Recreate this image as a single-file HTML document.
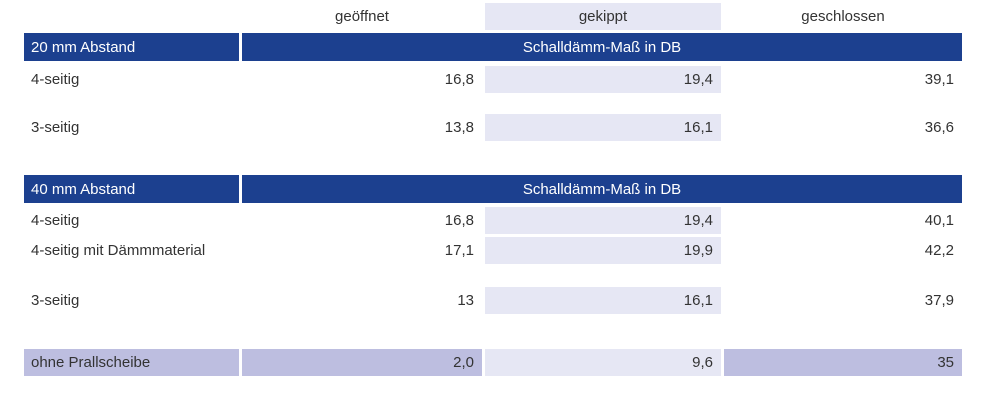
<!DOCTYPE html>
<html><head><meta charset="utf-8"><style>
body{margin:0;width:990px;height:401px;background:#fff;position:relative;overflow:hidden;font-family:"Liberation Sans Narrow","Liberation Sans",sans-serif;font-stretch:condensed;color:#333;font-size:15px}
.c{position:absolute;box-sizing:border-box;display:flex;align-items:center;white-space:nowrap}
.r{justify-content:flex-end;padding-right:8px}
.l{padding-left:7px}
.m{justify-content:center}
.h{background:#1c408f;color:#fff}
.lg{background:#e6e7f4}
.dk{background:#bdbee0}
</style></head><body>
<div class="c m" style="left:242px;top:3px;width:240px;height:27px">geöffnet</div>
<div class="c m lg" style="left:485px;top:3px;width:236px;height:27px">gekippt</div>
<div class="c m" style="left:724px;top:3px;width:238px;height:27px">geschlossen</div>
<div id="t"></div>
<script>
const sections=[
 {top:33,title:"20 mm Abstand",sub:"Schalldämm-Maß in DB"},
 {top:175,title:"40 mm Abstand",sub:"Schalldämm-Maß in DB"}];
const rowLabels=["4-seitig","3-seitig","4-seitig","4-seitig mit Dämmmaterial","3-seitig","ohne Prallscheibe"];
const rowTops=[66,114,207,237,287,349];
const geoeffnet=["16,8","13,8","16,8","17,1","13","2,0"];
const gekippt=["19,4","16,1","19,4","19,9","16,1","9,6"];
const geschlossen=["39,1","36,6","40,1","42,2","37,9","35"];
const t=document.getElementById('t');
function cell(cls,x,y,w,h,txt,name){const d=document.createElement('div');d.className='c '+cls;d.style.cssText=`left:${x}px;top:${y}px;width:${w}px;height:${h}px`;d.textContent=txt;


t.appendChild(d);}
sections.forEach((s,i)=>{cell('h l',24,s.top,215,28,s.title,'section-title');cell('h m',242,s.top,720,28,s.sub,'section-subtitle');});
rowLabels.forEach((lab,i)=>{const last=i===rowLabels.length-1;const y=rowTops[i],h=27;
cell('l'+(last?' dk':''),24,y,215,h,lab,'row-label');
cell('r'+(last?' dk':''),242,y,240,h,geoeffnet[i],'value-geoeffnet');
cell('r lg',485,y,236,h,gekippt[i],'value-gekippt');
cell('r'+(last?' dk':''),724,y,238,h,geschlossen[i],'value-geschlossen');});
</script>
</body></html>
